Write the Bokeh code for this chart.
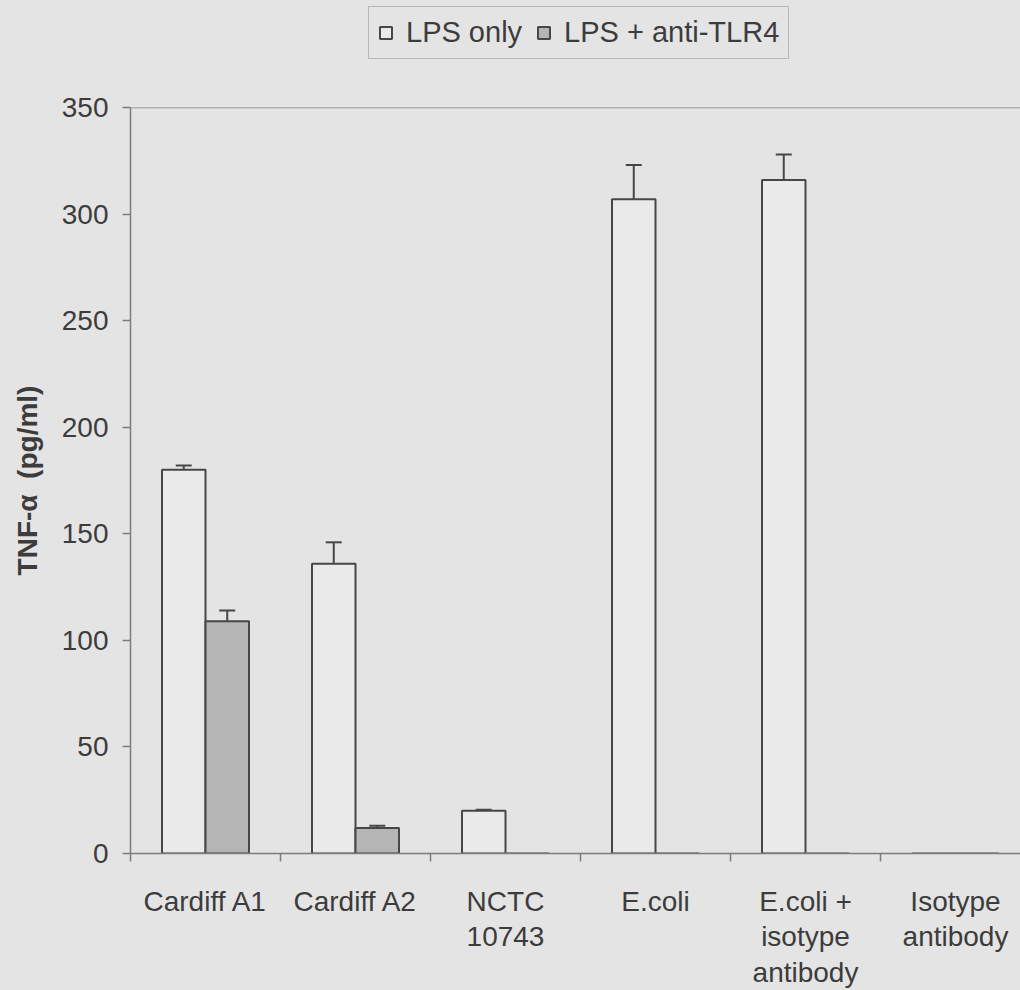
from bokeh.plotting import figure
from bokeh.layouts import column
from bokeh.models import (ColumnDataSource, Range1d, FixedTicker, Whisker, TeeHead,
                          Span, Legend, LegendItem)
from bokeh.embed import file_html
from bokeh.resources import INLINE

# TNF-alpha release (pg/ml) per stimulus, with and without anti-TLR4
categories = ["Cardiff A1", "Cardiff A2", "NCTC 10743", "E.coli",
              "E.coli + isotype antibody", "Isotype antibody"]
tick_labels = ["Cardiff A1", "Cardiff A2", "NCTC\n10743", "E.coli",
               "E.coli +\nisotype\nantibody", "Isotype\nantibody"]
lps_only = [180, 136, 20, 307, 316, 0]
lps_only_err = [2, 10, 0.5, 16, 12, 0]
lps_anti_tlr4 = [109, 12, 0, 0, 0, 0]
lps_anti_tlr4_err = [5, 1, 0, 0, 0, 0]
y_ticks = [0, 50, 100, 150, 200, 250, 300, 350]
series_names = ["LPS only", "LPS + anti-TLR4"]

BG = "#e4e4e4"
INK = "#3c3c3c"
EDGE = "#474747"
AXIS = "#7c7c7c"
FILL_A = "#eaeaea"
FILL_B = "#b5b5b5"
FONT = "Liberation Sans"

W, H = 1020, 990
HEAD = 87                      # strip holding the legend
LEFT, TOP, BOTTOM = 130, 20, 133
cat_px = 150.0
n_visible = (W - LEFT) / cat_px

# ---- legend strip (its frame is aligned with the chart frame below) ----
head = figure(width=W, height=HEAD, output_backend="svg", toolbar_location=None,
              x_range=Range1d(0, 1), y_range=Range1d(0, 1),
              x_axis_location=None, y_axis_location=None,
              min_border=0, min_border_left=LEFT)
head.styles = {"background-color": BG}
head.background_fill_color = BG
head.border_fill_color = BG
head.outline_line_color = None
head.grid.visible = False
# key swatches: tiny bars that sit under the opaque legend box
key_a = head.vbar(x=[0.42], bottom=[0.6], top=[0.61], width=0.001,
                  fill_color=FILL_A, line_color=EDGE, line_width=2)
key_b = head.vbar(x=[0.42], bottom=[0.6], top=[0.61], width=0.001,
                  fill_color=FILL_B, line_color=EDGE, line_width=2)
legend = Legend(items=[LegendItem(label=series_names[0], renderers=[key_a]),
                       LegendItem(label=series_names[1], renderers=[key_b])],
                orientation="horizontal",
                location=(368 - LEFT, HEAD - 59),
                label_text_font=FONT, label_text_font_size="29px",
                label_text_color=INK,
                glyph_width=15, glyph_height=15, label_standoff=13, spacing=14,
                padding=9, margin=0,
                border_line_color="#8a8a8a", border_line_width=1,
                background_fill_color=BG, background_fill_alpha=1.0)
head.add_layout(legend)

# ---- bar chart ----
p = figure(width=W, height=H - HEAD, output_backend="svg", toolbar_location=None,
           x_range=Range1d(0, n_visible), y_range=Range1d(0, 350),
           min_border_left=LEFT, min_border_right=0,
           min_border_top=TOP, min_border_bottom=BOTTOM)
p.styles = {"background-color": BG}
p.background_fill_color = BG
p.border_fill_color = BG
p.outline_line_color = None
p.grid.visible = False

centers = [i + 0.5 for i in range(len(categories))]
bar_w = 0.29
off = bar_w / 2

src_a = ColumnDataSource(dict(x=[c - off for c in centers], top=lps_only))
src_b = ColumnDataSource(dict(x=[c + off for c in centers], top=lps_anti_tlr4))

p.vbar(x="x", top="top", bottom=0, width=bar_w, source=src_a,
       fill_color=FILL_A, line_color=EDGE, line_width=2)
p.vbar(x="x", top="top", bottom=0, width=bar_w, source=src_b,
       fill_color=FILL_B, line_color=EDGE, line_width=2)

# upward-only error bars for bars that carry an error
for xs, tops, errs in ((src_a.data["x"], lps_only, lps_only_err),
                       (src_b.data["x"], lps_anti_tlr4, lps_anti_tlr4_err)):
    keep = [i for i, e in enumerate(errs) if e > 0]
    es = ColumnDataSource(dict(base=[xs[i] for i in keep],
                               lower=[tops[i] for i in keep],
                               upper=[tops[i] + errs[i] for i in keep]))
    p.add_layout(Whisker(source=es, base="base", lower="lower", upper="upper",
                         dimension="height", line_color=EDGE, line_width=2,
                         lower_head=None,
                         upper_head=TeeHead(size=16, line_color=EDGE, line_width=2)))

# top boundary line of the plot area
p.add_layout(Span(location=350, dimension="width", line_color=AXIS, line_width=1.5))

# x axis: category names centred, separators as minor ticks
xa = p.xaxis[0]
xa.ticker = FixedTicker(ticks=centers, minor_ticks=list(range(len(categories) + 1)))
xa.major_label_overrides = {c: t for c, t in zip(centers, tick_labels)}
xa.major_tick_line_color = None
xa.major_tick_out = 0
xa.major_tick_in = 0
xa.minor_tick_out = 8
xa.minor_tick_in = 0
xa.minor_tick_line_color = AXIS
xa.minor_tick_line_width = 1.5
xa.axis_line_color = AXIS
xa.axis_line_width = 1.5
xa.major_label_standoff = 24
xa.major_label_text_font = FONT
xa.major_label_text_font_size = "28px"
xa.major_label_text_color = INK
xa.major_label_text_align = "center"
xa.major_label_text_line_height = 1.15

ya = p.yaxis[0]
ya.ticker = FixedTicker(ticks=y_ticks)
ya.minor_tick_line_color = None
ya.major_tick_out = 8
ya.major_tick_in = 0
ya.major_tick_line_color = AXIS
ya.major_tick_line_width = 1.5
ya.axis_line_color = AXIS
ya.axis_line_width = 1.5
ya.major_label_standoff = 14
ya.major_label_text_font = FONT
ya.major_label_text_font_size = "28px"
ya.major_label_text_color = INK
ya.axis_label = "TNF-\u03b1\u00a0\u00a0(pg/ml)"
ya.axis_label_text_font = FONT
ya.axis_label_text_font_style = "bold"
ya.axis_label_text_font_size = "28px"
ya.axis_label_text_color = INK
ya.axis_label_standoff = 16

page = column(head, p, spacing=0, styles={"background-color": BG})
open("out.html", "w").write(file_html(page, INLINE))
